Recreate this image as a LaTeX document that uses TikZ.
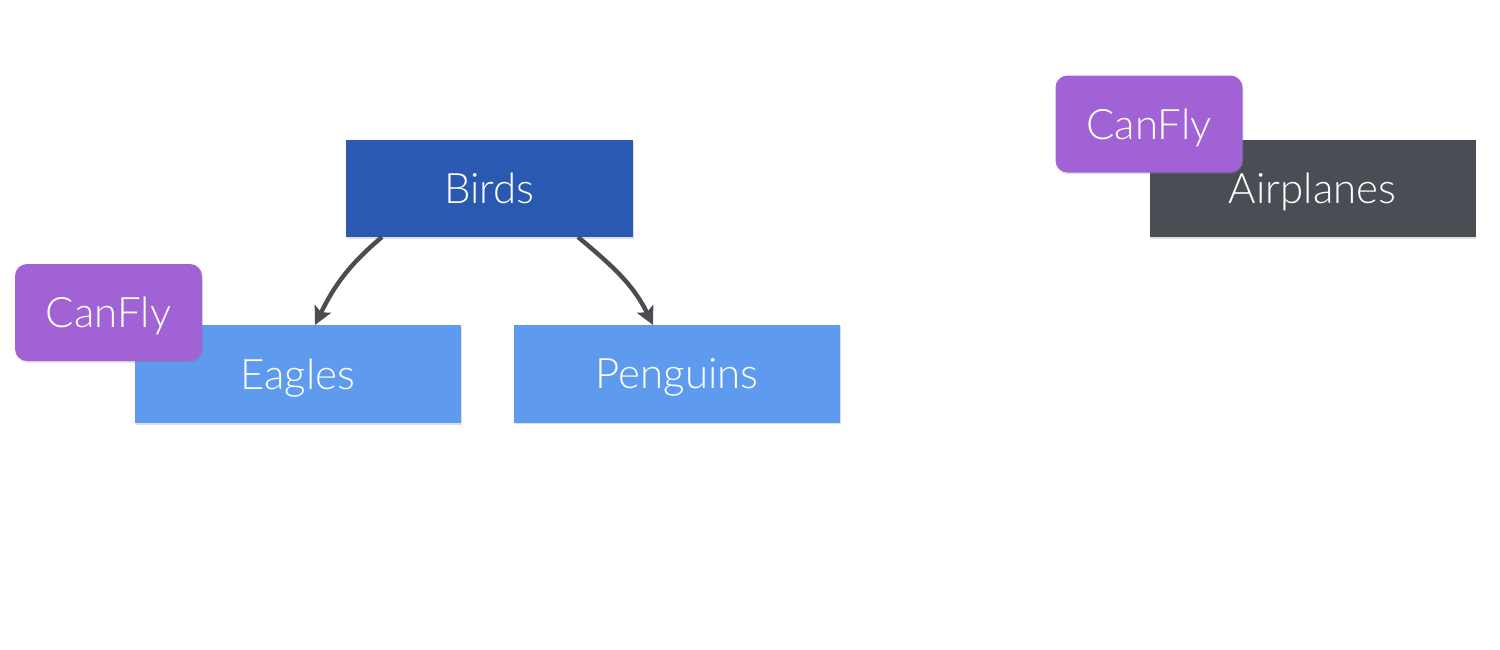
\documentclass[tikz,border=0pt]{standalone}
\usepackage{fontspec}
\setmainfont{Lato}[UprightFont=* Light]
\usetikzlibrary{arrows.meta,shadows}
\definecolor{birdblue}{HTML}{2A59B2}
\definecolor{lightblue}{HTML}{5E9BEF}
\definecolor{planegray}{HTML}{4B4D55}
\definecolor{flypurple}{HTML}{A062D4}
\definecolor{arrowgray}{HTML}{4A4C52}
\tikzset{
  box/.style={rectangle, inner sep=0pt, text=white, font=\fontsize{21}{25}\selectfont,
    text height=15pt, text depth=0pt,
    drop shadow={shadow xshift=0.4pt, shadow yshift=-0.8pt, opacity=0.25}},
  bigbox/.style={box, minimum width=163pt, minimum height=49pt},
  birdbox/.style={box, fill=birdblue, minimum width=143.5pt, minimum height=48.5pt},
  flybox/.style={box, fill=flypurple, rounded corners=6pt, minimum width=93.5pt, minimum height=48.5pt},
  link/.style={draw=arrowgray, line width=2.2pt, -{Stealth[length=9pt,width=9pt,inset=2pt]}}
}
\begin{document}
\begin{tikzpicture}[x=0.5pt,y=-0.5pt]
\useasboundingbox (0,0) rectangle (1500,649);
\node[birdbox] (birds) at (489.5,188.5) {Birds};
\node[bigbox, fill=lightblue] (eagles) at (298,374) {Eagles};
\node[bigbox, fill=lightblue] (penguins) at (677,373.5) {Penguins};
\node[bigbox, fill=planegray, minimum height=48.5pt] (airplanes) at (1312.5,188.5) {Airplanes};
\node[flybox] (fly1) at (108.5,312.5) {CanFly};
\node[flybox] (fly2) at (1149,124) {CanFly};
\coordinate (b1) at (382,237);
\coordinate (b2) at (578,237);
\coordinate (e1) at (315,325);
\coordinate (p1) at (653,325);
\draw[link] (b1) to[out=-140,in=64] (e1);
\draw[link] (b2) to[out=-40,in=116] (p1);
\end{tikzpicture}
\end{document}
